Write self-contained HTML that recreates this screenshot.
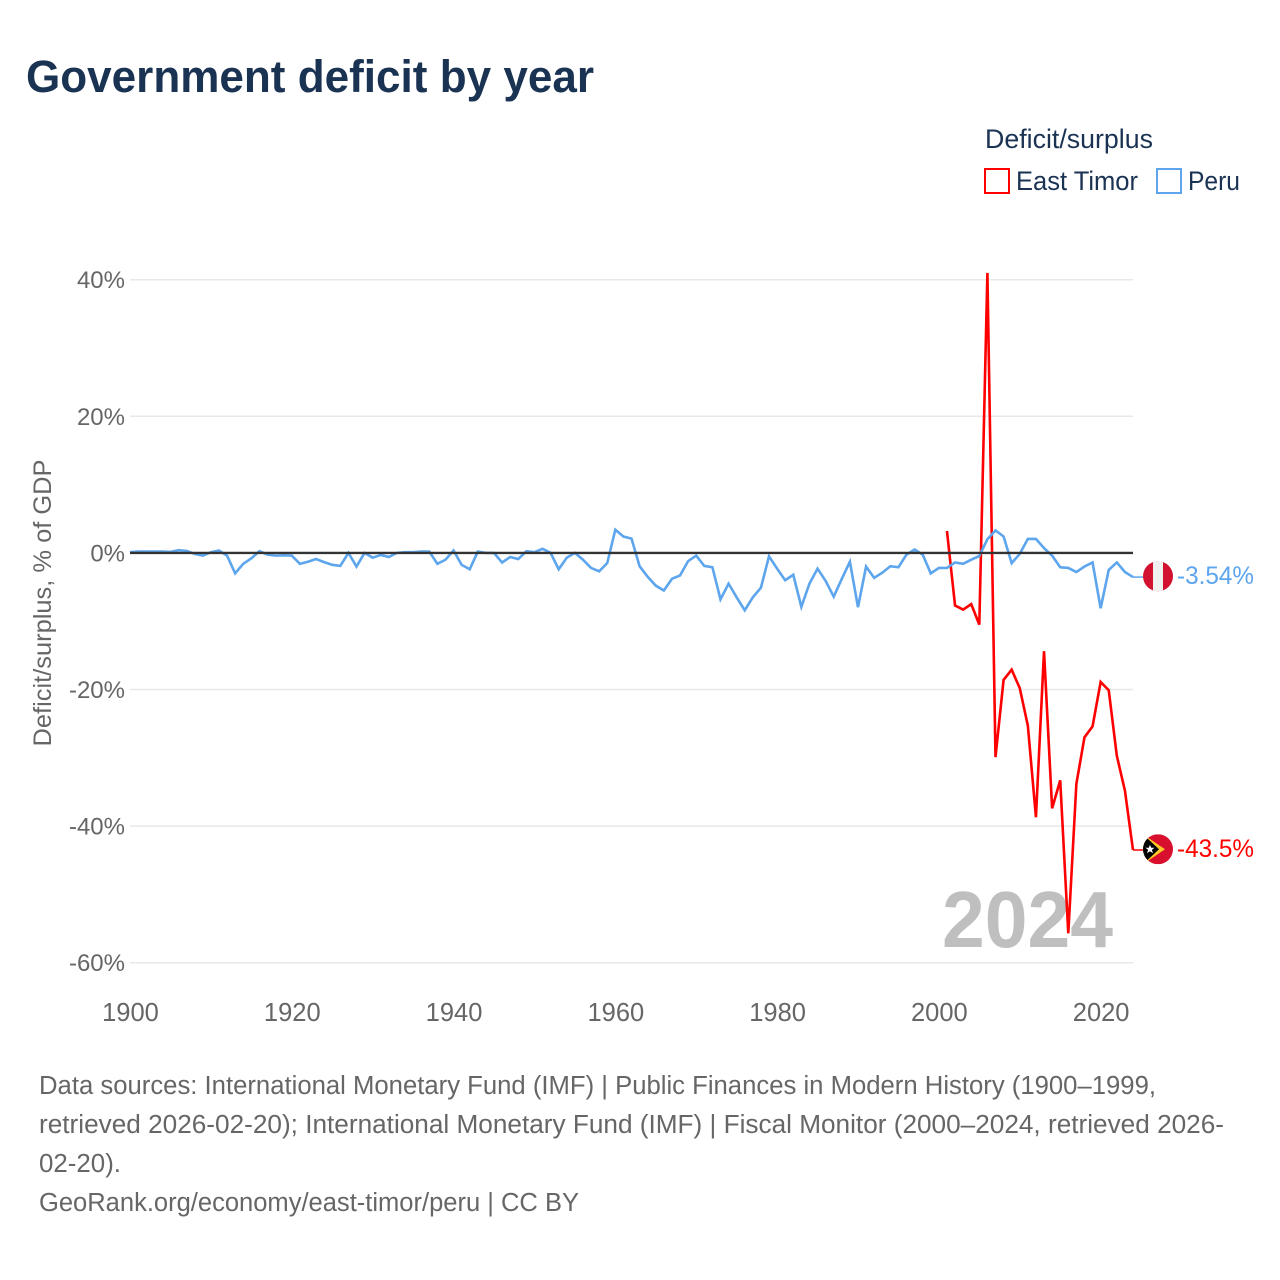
<!DOCTYPE html>
<html lang="en">
<head>
<meta charset="utf-8">
<title>Government deficit by year</title>
<style>
html,body{margin:0;padding:0;background:#fff;}
svg{display:block;font-family:"Liberation Sans",sans-serif;}
</style>
</head>
<body>
<svg id="chart" xmlns="http://www.w3.org/2000/svg" width="1280" height="1280" viewBox="0 0 1280 1280">
  <defs>
    <clipPath id="flag-clip"><circle cx="0" cy="0" r="15"></circle></clipPath>
  </defs>
  <rect x="0" y="0" width="1280" height="1280" fill="#ffffff"></rect>
  <text x="26" y="92" font-size="45" font-weight="700" fill="#1a3353" textLength="568" lengthAdjust="spacingAndGlyphs">Government deficit by year</text>

  <g>
    <text x="985" y="148" font-size="26.5" fill="#1a3353" textLength="168" lengthAdjust="spacingAndGlyphs">Deficit/surplus</text>
    <g>
      <rect x="985" y="169" width="24" height="24" fill="none" stroke="#ff0000" stroke-width="2"></rect>
      <text x="1016" y="190" font-size="26.5" fill="#1a3353" textLength="122" lengthAdjust="spacingAndGlyphs">East Timor</text>
    </g>
    <g>
      <rect x="1157" y="169" width="24" height="24" fill="none" stroke="#5da5ec" stroke-width="2"></rect>
      <text x="1188" y="190" font-size="26.5" fill="#1a3353" textLength="52" lengthAdjust="spacingAndGlyphs">Peru</text>
    </g>
  </g>

  <text transform="translate(51,603) rotate(-90)" text-anchor="middle" font-size="25" fill="#666666" textLength="287" lengthAdjust="spacingAndGlyphs">Deficit/surplus, % of GDP</text>

  <g id="grid"></g>
  <g id="y-labels"></g>
  <g id="x-labels"></g>

  <text x="942" y="947" font-size="80" font-weight="700" fill="#bfbfbf" textLength="171" lengthAdjust="spacingAndGlyphs">2024</text>

  <g id="series"></g>
  <line id="zero-line" stroke="#333333" stroke-width="2.4"></line>

  <g id="flag-peru">
    <g clip-path="url(#flag-clip)">
      <rect x="-15" y="-15" width="30" height="30" fill="#d2102f"></rect>
      <rect x="-5" y="-15" width="10" height="30" fill="#f0f0f0"></rect>
    </g>
  </g>
  <g id="flag-timor">
    <g clip-path="url(#flag-clip)">
      <rect x="-15" y="-15" width="30" height="30" fill="#d90f2e"></rect>
      <polygon points="-15,-15 7,0 -15,15" fill="#ffc726"></polygon>
      <polygon points="-15,-15 1,0 -15,15" fill="#000000"></polygon>
      <polygon points="-8,-4.5 -6.8,-1.4 -3.5,-1.4 -6.1,0.7 -5,4 -8,2.1 -11,4 -9.9,0.7 -12.5,-1.4 -9.2,-1.4" fill="#ffffff"></polygon>
    </g>
  </g>
  <text id="value-peru" x="1177" font-size="25" fill="#5da5ec" textLength="77" lengthAdjust="spacingAndGlyphs"></text>
  <text id="value-timor" x="1177" font-size="25" fill="#ff0000" textLength="77" lengthAdjust="spacingAndGlyphs"></text>

  <g font-size="25.5" fill="#666666">
    <text x="39" y="1094" textLength="1117" lengthAdjust="spacingAndGlyphs">Data sources: International Monetary Fund (IMF) | Public Finances in Modern History (1900–1999,</text>
    <text x="39" y="1133" textLength="1185" lengthAdjust="spacingAndGlyphs">retrieved 2026-02-20); International Monetary Fund (IMF) | Fiscal Monitor (2000–2024, retrieved 2026-</text>
    <text x="39" y="1172" textLength="82" lengthAdjust="spacingAndGlyphs">02-20).</text>
    <text x="39" y="1211" textLength="540" lengthAdjust="spacingAndGlyphs">GeoRank.org/economy/east-timor/peru | CC BY</text>
  </g>
</svg>
<script>
const peruYears = [1900,1901,1902,1903,1904,1905,1906,1907,1908,1909,1910,1911,1912,1913,1914,1915,1916,1917,1918,1919,1920,1921,1922,1923,1924,1925,1926,1927,1928,1929,1930,1931,1932,1933,1934,1935,1936,1937,1938,1939,1940,1941,1942,1943,1944,1945,1946,1947,1948,1949,1950,1951,1952,1953,1954,1955,1956,1957,1958,1959,1960,1961,1962,1963,1964,1965,1966,1967,1968,1969,1970,1971,1972,1973,1974,1975,1976,1977,1978,1979,1980,1981,1982,1983,1984,1985,1986,1987,1988,1989,1990,1991,1992,1993,1994,1995,1996,1997,1998,1999,2000,2001,2002,2003,2004,2005,2006,2007,2008,2009,2010,2011,2012,2013,2014,2015,2016,2017,2018,2019,2020,2021,2022,2023,2024];
const peruValues = [0.1,0.2,0.2,0.2,0.2,0.15,0.4,0.3,-0.15,-0.4,0.1,0.35,-0.4,-3.0,-1.6,-0.8,0.25,-0.25,-0.4,-0.35,-0.4,-1.6,-1.3,-0.9,-1.35,-1.75,-1.9,0.0,-2.0,0.0,-0.7,-0.3,-0.6,0.0,0.1,0.1,0.2,0.2,-1.6,-1.0,0.35,-1.75,-2.4,0.2,0.0,0.0,-1.4,-0.6,-0.9,0.25,0.1,0.6,0.0,-2.4,-0.7,0.0,-1.0,-2.2,-2.7,-1.5,3.4,2.4,2.1,-1.95,-3.5,-4.8,-5.5,-3.8,-3.3,-1.2,-0.4,-1.9,-2.1,-6.8,-4.5,-6.5,-8.4,-6.5,-5.1,-0.5,-2.3,-4.0,-3.2,-7.9,-4.5,-2.3,-4.1,-6.4,-3.8,-1.3,-7.95,-2.0,-3.65,-2.9,-1.95,-2.1,-0.25,0.5,-0.25,-3.0,-2.2,-2.2,-1.4,-1.6,-1.0,-0.45,2.0,3.3,2.4,-1.5,-0.15,2.05,2.05,0.7,-0.4,-2.1,-2.2,-2.8,-2.0,-1.4,-8.1,-2.5,-1.4,-2.8,-3.54];
const timorYears = [2001,2002,2003,2004,2005,2006,2007,2008,2009,2010,2011,2012,2013,2014,2015,2016,2017,2018,2019,2020,2021,2022,2023,2024];
const timorValues = [3.2,-7.7,-8.3,-7.5,-10.5,41,-29.9,-18.6,-17.1,-19.8,-25.3,-38.7,-14.4,-37.4,-33.3,-55.7,-33.8,-27,-25.4,-18.9,-20.1,-29.7,-34.8,-43.5];
const yTicks = [40,20,0,-20,-40,-60];
const yTickLabels = ["40%","20%","0%","-20%","-40%","-60%"];
const xTicks = [1900,1920,1940,1960,1980,2000,2020];
const xTickLabels = ["1900","1920","1940","1960","1980","2000","2020"];

const NS = 'http://www.w3.org/2000/svg';
const plotLeft = 130, plotRight = 1133, y0px = 552.9, pxPerPct = 6.83;
const xDomain0 = 1900, xDomain1 = 2024;
const lineWidth = 2.6;
function xScale(year){ return plotLeft + (year - xDomain0) * (plotRight - plotLeft) / (xDomain1 - xDomain0); }
function yScale(v){ return y0px - v * pxPerPct; }
function make(tag, parent){ const el = document.createElementNS(NS, tag); parent.appendChild(el); return el; }
function pathFor(years, values){
  return values.map(function(v, i){ return (i ? 'L' : 'M') + xScale(years[i]).toFixed(2) + ' ' + yScale(v).toFixed(2); }).join(' ');
}

const grid = document.getElementById('grid');
const yLabels = document.getElementById('y-labels');
const xLabels = document.getElementById('x-labels');
const series = document.getElementById('series');

yTicks.forEach(function(t, i){
  if (t !== 0) {
    const g = make('line', grid);
    
    
    g.setAttribute('x1', plotLeft);
    g.setAttribute('x2', plotRight);
    g.setAttribute('y1', yScale(t));
    g.setAttribute('y2', yScale(t));
    g.setAttribute('stroke', '#e8e8e8');
    g.setAttribute('stroke-width', '1.5');
  }
  const lab = make('text', yLabels);
  
  
  lab.setAttribute('x', 125);
  lab.setAttribute('y', yScale(t) + 8.5);
  lab.setAttribute('text-anchor', 'end');
  lab.setAttribute('font-size', '24');
  lab.setAttribute('fill', '#666666');
  lab.textContent = yTickLabels[i];
});

xTicks.forEach(function(t, i){
  const lab = make('text', xLabels);
  
  
  lab.setAttribute('x', xScale(t) + 0.5);
  lab.setAttribute('y', 1021);
  lab.setAttribute('text-anchor', 'middle');
  lab.setAttribute('font-size', '25.5');
  lab.setAttribute('fill', '#666666');
  lab.textContent = xTickLabels[i];
});

const timorLine = make('path', series);


timorLine.setAttribute('d', pathFor(timorYears, timorValues));
timorLine.setAttribute('fill', 'none');
timorLine.setAttribute('stroke', '#ff0000');
timorLine.setAttribute('stroke-width', lineWidth);

const peruLine = make('path', series);


peruLine.setAttribute('d', pathFor(peruYears, peruValues));
peruLine.setAttribute('fill', 'none');
peruLine.setAttribute('stroke', '#5da5ec');
peruLine.setAttribute('stroke-width', lineWidth);

const lastPeru = peruValues[peruValues.length - 1];
const lastTimor = timorValues[timorValues.length - 1];

const peruConnector = make('line', series);


peruConnector.setAttribute('x1', plotRight);
peruConnector.setAttribute('x2', 1143);
peruConnector.setAttribute('y1', yScale(lastPeru));
peruConnector.setAttribute('y2', yScale(lastPeru));
peruConnector.setAttribute('stroke', '#5da5ec');
peruConnector.setAttribute('stroke-width', '1.5');

const timorConnector = make('line', series);


timorConnector.setAttribute('x1', plotRight);
timorConnector.setAttribute('x2', 1143);
timorConnector.setAttribute('y1', yScale(lastTimor));
timorConnector.setAttribute('y2', yScale(lastTimor));
timorConnector.setAttribute('stroke', '#ff0000');
timorConnector.setAttribute('stroke-width', '1.5');

const zero = document.getElementById('zero-line');
zero.setAttribute('x1', plotLeft);
zero.setAttribute('x2', plotRight);
zero.setAttribute('y1', yScale(0));
zero.setAttribute('y2', yScale(0));

document.getElementById('flag-peru').setAttribute('transform', 'translate(1158,' + (yScale(lastPeru) - 0.8).toFixed(2) + ')');
document.getElementById('flag-timor').setAttribute('transform', 'translate(1158,' + (yScale(lastTimor) - 0.8).toFixed(2) + ')');

const valPeru = document.getElementById('value-peru');
valPeru.setAttribute('y', yScale(lastPeru) + 7);
valPeru.textContent = lastPeru.toPrecision(3) + '%';
const valTimor = document.getElementById('value-timor');
valTimor.setAttribute('y', yScale(lastTimor) + 7);
valTimor.textContent = lastTimor.toPrecision(3) + '%';
</script>
</body>
</html>
